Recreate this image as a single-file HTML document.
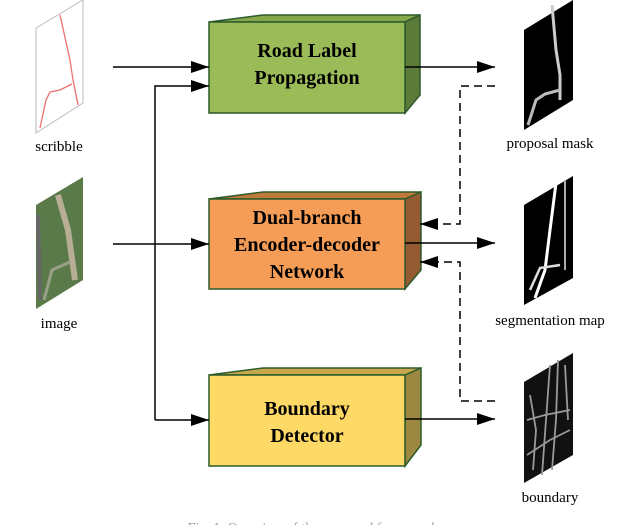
<!DOCTYPE html>
<html><head><meta charset="utf-8"><style>html,body{margin:0;padding:0;background:#fff}svg{display:block}</style></head>
<body>
<svg width="640" height="525" viewBox="0 0 640 525" xmlns="http://www.w3.org/2000/svg" font-family="Liberation Serif, serif">
<defs>
<marker id="ah2" markerWidth="18" markerHeight="12" refX="18" refY="6" orient="auto" markerUnits="userSpaceOnUse"><path d="M0,0 L18,6 L0,12 Z" fill="#000"/></marker>
</defs>
<polygon points="36,28 83,0 83,103 36,133" fill="#fff" stroke="#bbb" stroke-width="1"/>
<polyline points="60,15 70,60 73,80 78,105" fill="none" stroke="#f07070" stroke-width="1.3"/>
<polyline points="40,128 46,100 50,92 60,90 72,84" fill="none" stroke="#f07070" stroke-width="1.3"/>
<text x="59" y="151" font-size="15" text-anchor="middle">scribble</text>
<polygon points="36,205 83,177 83,280 36,309" fill="#5a7a4a"/>
<polyline points="58,195 68,230 75,280" fill="none" stroke="#b8ae96" stroke-width="6"/>
<polyline points="44,300 52,270 70,262" fill="none" stroke="#9aa088" stroke-width="3"/>
<polyline points="38,215 40,300" fill="none" stroke="#666" stroke-width="4"/>
<text x="59" y="328" font-size="15" text-anchor="middle">image</text>
<polygon points="524,30 573,0 573,100 524,130" fill="#000"/>
<polyline points="552,5 556,50 560,75 560,100" fill="none" stroke="#ccc" stroke-width="3"/>
<polyline points="528,125 536,100 545,94 560,90" fill="none" stroke="#bbb" stroke-width="3"/>
<text x="550" y="148" font-size="15" text-anchor="middle">proposal mask</text>
<polygon points="524,205 573,176 573,278 524,305" fill="#000"/>
<polyline points="556,183 550,230 545,270 535,298" fill="none" stroke="#fff" stroke-width="3"/>
<polyline points="530,290 540,268 560,265" fill="none" stroke="#ddd" stroke-width="2.5"/>
<polyline points="565,180 565,270" fill="none" stroke="#aaa" stroke-width="2"/>
<text x="550" y="325" font-size="15" text-anchor="middle">segmentation map</text>
<polygon points="524,382 573,353 573,455 524,483" fill="#111"/>
<g fill="none" stroke="#999" stroke-width="1.8">
<polyline points="550,365 546,420 542,475"/><polyline points="558,360 556,420 552,470"/>
<polyline points="527,420 545,415 570,410"/><polyline points="527,455 550,440 570,430"/>
<polyline points="530,395 536,430 533,470"/><polyline points="565,365 568,420"/>
</g>
<text x="550" y="502" font-size="15" text-anchor="middle">boundary</text>
<g stroke="#2b5a2b" stroke-width="1.5">
<polygon points="209,22 263,15 420,15 405,22" fill="#86a84a"/>
<polygon points="405,22 420,15 420,95 405,113" fill="#5c7a38"/>
<rect x="209" y="22" width="196" height="91" fill="#9bbb59"/>
<polygon points="209,199 263,192 421,192 405,199" fill="#c07a3a"/>
<polygon points="405,199 421,192 421,270 405,289" fill="#945b32"/>
<rect x="209" y="199" width="196" height="90" fill="#f59d56"/>
<polygon points="209,375 263,368 421,368 405,375" fill="#c8a84a"/>
<polygon points="405,375 421,368 421,445 405,466" fill="#9c8840"/>
<rect x="209" y="375" width="196" height="91" fill="#ffd966"/>
</g>
<g font-size="20" font-weight="bold" text-anchor="middle">
<text x="307" y="57">Road Label</text><text x="307" y="84">Propagation</text>
<text x="307" y="224">Dual-branch</text><text x="307" y="251">Encoder-decoder</text><text x="307" y="278">Network</text>
<text x="307" y="415">Boundary</text><text x="307" y="442">Detector</text>
</g>
<g stroke="#000" stroke-width="1.5" fill="none">
<line x1="113" y1="67" x2="209" y2="67" marker-end="url(#ah2)"/>
<polyline points="155,420 155,86 209,86" marker-end="url(#ah2)"/>
<line x1="113" y1="244" x2="209" y2="244" marker-end="url(#ah2)"/>
<line x1="155" y1="420" x2="209" y2="420" marker-end="url(#ah2)"/>
<line x1="405" y1="67" x2="495" y2="67" marker-end="url(#ah2)"/>
<line x1="405" y1="243" x2="495" y2="243" marker-end="url(#ah2)"/>
<line x1="405" y1="419" x2="495" y2="419" marker-end="url(#ah2)"/>
<polyline points="495,86 460,86 460,224 420,224" stroke-dasharray="8,5" marker-end="url(#ah2)"/>
<polyline points="495,401 460,401 460,262 420,262" stroke-dasharray="8,5" marker-end="url(#ah2)"/>
</g>
<text x="320" y="532" font-size="14" fill="#999" text-anchor="middle">Fig. 1. Overview of the proposed framework ...</text>
</svg>
</body></html>
